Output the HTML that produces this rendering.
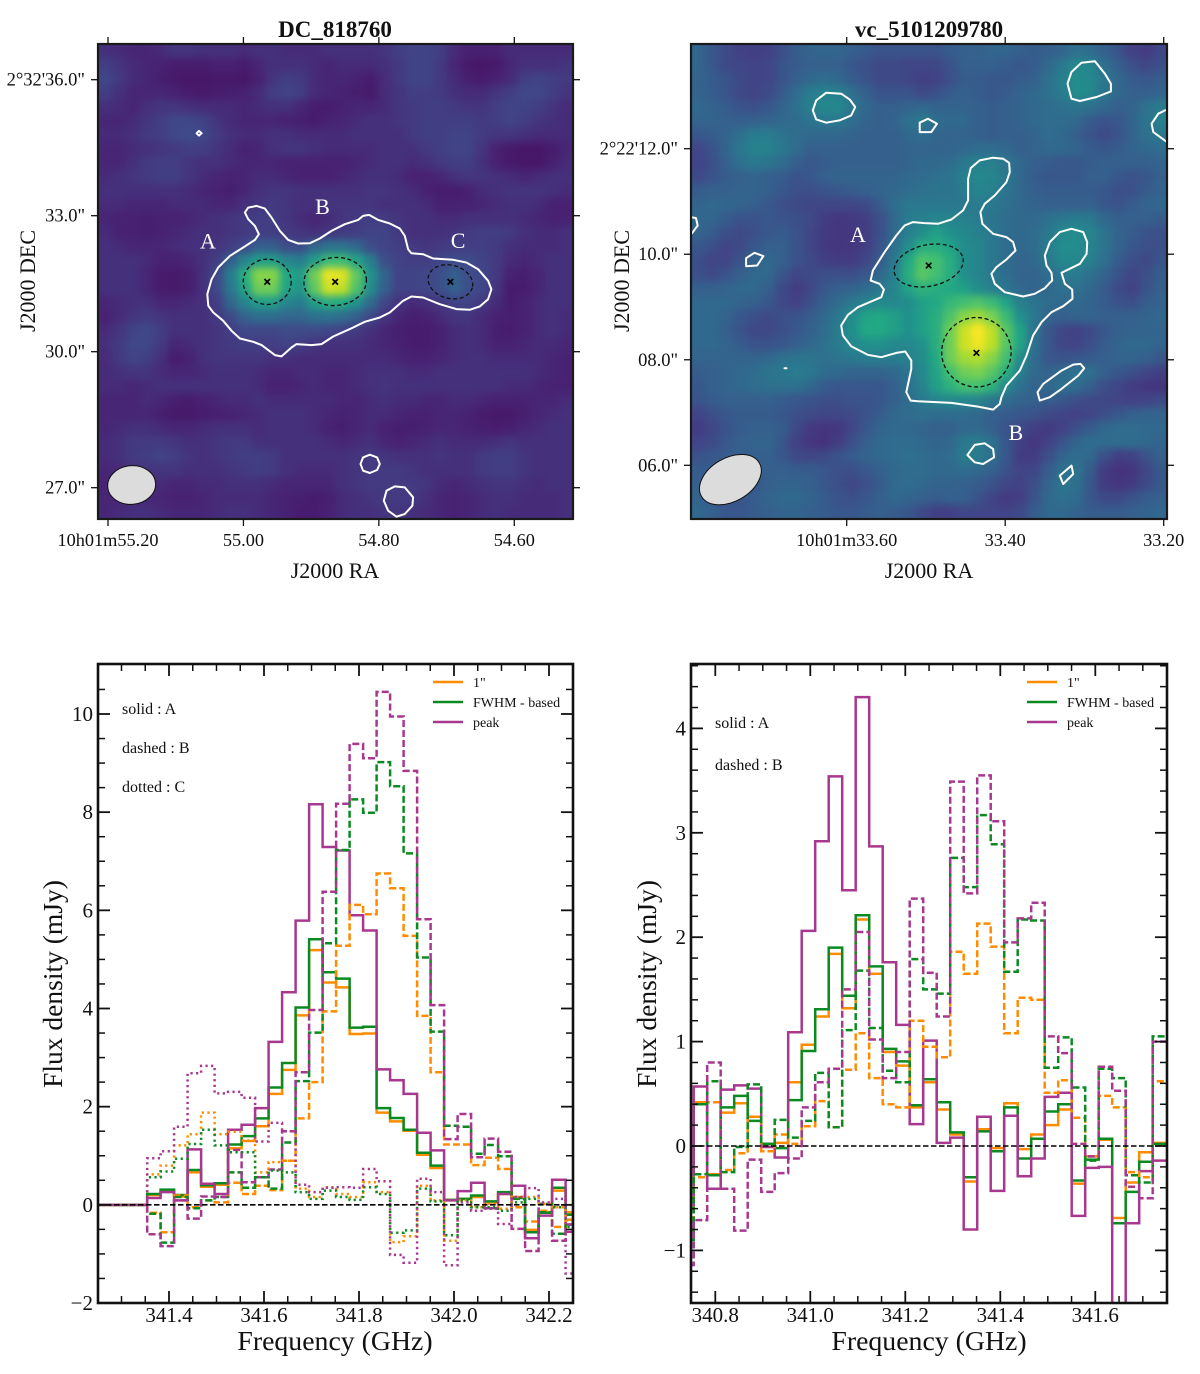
<!DOCTYPE html>
<html lang="en">
<head>
<meta charset="utf-8">
<title>DC_818760 and vc_5101209780 maps and spectra</title>
<style>
html,body{margin:0;padding:0;background:#fff;}
svg{display:block;font-family:"Liberation Serif",serif;}
text{fill:#111;}
</style>
</head>
<body>
<svg id="fig" xmlns="http://www.w3.org/2000/svg" width="1200" height="1374" viewBox="0 0 1200 1374">
  <defs>
    <filter id="smooth" filterUnits="userSpaceOnUse" x="0" y="0" width="1200" height="600" color-interpolation-filters="sRGB">
      <feGaussianBlur stdDeviation="4"/>
    </filter>
    <clipPath id="clipMapL"><rect x="98" y="44" width="475" height="475"/></clipPath>
    <clipPath id="clipMapR"><rect x="691" y="44" width="476" height="475"/></clipPath>
    <clipPath id="clipSpecL"><rect x="98" y="664" width="475" height="639"/></clipPath>
    <clipPath id="clipSpecR"><rect x="691" y="664" width="476" height="639"/></clipPath>
  </defs>

  <g id="mapL"></g>
  <g id="mapR"></g>
  <g id="specL"></g>
  <g id="specR"></g>

  <text x="335" y="37" text-anchor="middle" font-size="23" font-weight="bold">DC_818760</text>
  <text x="929" y="37" text-anchor="middle" font-size="23" font-weight="bold">vc_5101209780</text>
  <text x="335" y="578" text-anchor="middle" font-size="22">J2000 RA</text>
  <text x="929" y="578" text-anchor="middle" font-size="22">J2000 RA</text>
  <text transform="translate(35,281) rotate(-90)" text-anchor="middle" font-size="22">J2000 DEC</text>
  <text transform="translate(629,281) rotate(-90)" text-anchor="middle" font-size="22">J2000 DEC</text>

  <text x="335" y="1350" text-anchor="middle" font-size="27.8">Frequency (GHz)</text>
  <text x="929" y="1350" text-anchor="middle" font-size="27.8">Frequency (GHz)</text>
  <text transform="translate(62,984) rotate(-90)" text-anchor="middle" font-size="27.5">Flux density (mJy)</text>
  <text transform="translate(656,984) rotate(-90)" text-anchor="middle" font-size="27.5">Flux density (mJy)</text>

  <text x="122" y="714" font-size="16">solid : A</text>
  <text x="122" y="753" font-size="16">dashed : B</text>
  <text x="122" y="792" font-size="16">dotted : C</text>
  <text x="715" y="728" font-size="16">solid : A</text>
  <text x="715" y="770" font-size="16">dashed : B</text>

  <g>
    <line x1="433" x2="463" y1="682" y2="682" stroke="#ff8c00" stroke-width="2.4"/>
    <text x="473" y="687" font-size="14">1"</text>
    <line x1="433" x2="463" y1="702" y2="702" stroke="#0b8a22" stroke-width="2.4"/>
    <text x="473" y="707" font-size="14">FWHM - based</text>
    <line x1="433" x2="463" y1="722" y2="722" stroke="#a8388f" stroke-width="2.4"/>
    <text x="473" y="727" font-size="14">peak</text>
  </g>
  <g>
    <line x1="1027" x2="1057" y1="682" y2="682" stroke="#ff8c00" stroke-width="2.4"/>
    <text x="1067" y="687" font-size="14">1"</text>
    <line x1="1027" x2="1057" y1="702" y2="702" stroke="#0b8a22" stroke-width="2.4"/>
    <text x="1067" y="707" font-size="14">FWHM - based</text>
    <line x1="1027" x2="1057" y1="722" y2="722" stroke="#a8388f" stroke-width="2.4"/>
    <text x="1067" y="727" font-size="14">peak</text>
  </g>
</svg>

<script>
/* ---------- heatmap values (percent of the colour scale) ---------- */
const heatLeft = [
[14,12,10,10,12,16,16,14,14,14,12,14,14,12,12,12,14,14,14,14,16,20,22,22,20,12,8,8,8,12,12,12,12,12],
[20,16,12,10,8,6,6,6,8,8,6,10,14,14,14,12,10,12,12,12,14,18,22,22,18,10,5,4,5,10,14,14,14,16],
[24,18,12,10,7,5,4,4,5,5,4,8,16,20,18,12,10,10,8,6,12,18,22,22,18,12,7,6,8,12,20,22,20,18],
[20,14,10,10,10,8,6,5,6,7,8,12,20,22,20,12,10,8,7,5,12,16,20,20,18,14,12,12,16,20,24,24,20,16],
[14,12,10,14,16,16,14,12,12,12,10,12,14,14,10,6,6,8,10,10,12,16,18,20,20,18,16,16,20,22,22,20,16,12],
[10,10,12,16,20,24,24,22,16,12,10,10,10,8,7,6,8,10,12,14,14,16,18,20,20,20,20,18,20,22,20,16,14,12],
[12,12,14,18,20,24,26,24,18,14,12,12,14,14,12,12,12,12,14,14,14,14,18,20,20,22,22,18,16,16,14,12,12,12],
[10,10,12,14,16,18,20,20,16,12,8,10,14,16,16,14,12,12,12,12,14,14,14,18,20,22,22,16,8,5,4,4,6,10],
[10,10,14,18,20,20,16,14,14,12,10,10,10,8,8,8,8,8,10,12,14,14,12,14,18,20,20,14,8,5,4,4,7,12],
[12,14,16,18,20,20,16,12,10,8,10,12,12,10,8,8,8,10,12,14,14,12,8,8,10,14,16,16,14,12,10,12,14,14],
[14,14,14,14,14,14,12,10,8,7,10,14,16,16,14,14,14,14,14,16,16,14,12,8,6,6,8,12,14,16,16,16,14,12],
[12,12,10,10,10,12,12,12,10,10,14,16,18,16,14,14,16,16,16,16,14,14,14,12,8,8,8,10,12,14,14,12,8,8],
[10,8,8,7,8,8,10,12,14,16,18,20,20,16,12,10,12,16,18,20,18,16,14,14,12,12,14,14,14,14,12,10,8,8],
[12,8,8,7,8,10,12,14,14,16,18,20,20,18,16,14,16,18,20,22,22,18,14,14,14,16,18,20,20,18,14,12,12,14],
[14,12,10,10,10,12,14,14,16,20,26,30,30,27,27,33,38,38,33,27,22,20,18,16,18,20,20,20,18,14,12,12,12,14],
[14,14,14,12,8,8,10,14,20,30,45,55,55,45,42,55,68,68,58,42,28,22,20,20,24,26,26,22,18,12,10,12,14,14],
[14,14,14,10,6,5,7,14,25,42,62,82,82,60,55,78,97,95,75,50,32,22,22,24,28,30,27,24,18,8,7,10,14,14],
[14,14,14,10,6,5,7,14,25,40,58,78,78,58,52,75,93,90,72,48,30,22,22,24,28,31,28,24,16,6,6,10,14,14],
[10,12,14,14,10,10,12,14,20,33,45,55,55,45,42,55,62,60,50,35,24,16,12,14,18,22,22,18,12,6,8,12,14,14],
[8,12,16,18,16,14,14,14,18,25,32,36,36,33,33,37,38,35,30,25,16,10,7,8,12,16,16,12,8,7,8,12,14,12],
[12,16,22,24,20,14,14,14,16,20,24,24,24,26,26,26,24,22,18,14,10,7,6,6,8,12,14,12,7,6,8,12,14,12],
[14,18,24,24,18,10,12,14,16,18,20,20,20,22,20,16,14,14,14,12,10,8,6,6,8,12,14,12,8,8,10,12,12,10],
[12,18,22,20,14,6,8,14,16,16,16,16,14,14,12,12,12,12,12,12,12,10,8,8,10,12,14,14,12,12,12,12,10,8],
[12,14,16,16,12,10,10,12,14,14,14,12,10,10,12,12,10,10,12,14,14,14,12,12,14,14,14,14,14,14,14,12,10,8],
[12,12,10,12,14,14,14,14,14,14,14,12,8,8,10,12,10,10,12,14,16,14,14,14,14,14,14,14,14,12,12,10,8,8],
[10,10,10,12,10,7,6,8,10,12,12,14,12,12,12,12,12,10,10,12,14,12,12,10,10,12,12,10,8,8,8,10,10,12],
[10,10,10,10,7,5,5,6,7,8,10,12,14,14,14,12,10,8,10,12,12,10,8,8,10,10,8,6,5,5,7,10,12,14],
[10,12,14,14,12,10,10,12,14,14,14,12,14,14,14,12,8,7,10,12,8,7,7,8,10,10,8,7,6,7,10,12,14,14],
[12,14,18,18,18,16,14,14,16,18,18,14,14,14,14,14,12,10,12,14,10,8,10,12,14,12,12,12,14,16,14,14,14,14],
[12,14,18,20,22,20,16,14,16,18,20,20,18,14,14,14,14,14,16,18,16,14,14,14,16,14,14,18,20,20,16,14,14,14],
[10,12,14,16,16,16,14,14,14,16,18,20,18,14,12,12,12,14,16,18,18,18,16,14,14,14,14,18,20,20,16,14,14,14],
[8,10,12,12,12,10,10,12,12,14,14,14,12,10,10,10,10,14,16,18,18,18,18,16,12,10,12,14,16,16,14,12,14,14],
[10,10,10,10,10,8,8,10,12,12,12,12,10,8,7,6,7,12,14,16,18,18,18,14,10,8,10,12,14,14,12,12,12,14],
[10,12,14,14,12,10,10,10,12,14,14,12,10,8,6,6,8,12,14,14,16,16,14,12,10,8,10,12,14,12,12,12,12,14]
];
const heatRight = [
[33,26,20,16,15,16,22,28,32,33,33,30,27,24,24,24,24,24,28,30,31,33,33,30,28,30,32,38,36,30,24,16,14,18],
[33,26,20,18,17,18,24,28,30,30,30,26,22,20,20,18,18,19,24,30,30,30,28,26,28,34,42,50,48,38,30,22,18,22],
[32,28,24,20,17,18,24,30,34,36,34,28,24,20,20,18,15,16,22,28,28,26,26,28,30,38,46,52,50,42,34,28,26,28],
[32,28,25,19,17,20,27,36,44,48,46,38,30,24,24,24,20,22,28,30,28,26,28,32,34,38,44,52,50,40,34,30,30,32],
[34,32,28,24,22,26,32,38,46,50,50,42,34,30,30,32,34,32,32,32,30,28,30,32,34,36,38,40,38,34,30,32,38,44],
[32,32,30,30,30,32,34,36,40,42,42,36,32,30,32,38,42,36,34,34,30,28,30,32,34,36,36,34,28,24,26,32,40,46],
[26,28,32,38,44,44,40,36,34,34,34,32,30,30,30,34,36,33,32,32,30,28,30,30,32,36,34,30,24,20,24,32,38,42],
[18,24,32,42,47,47,42,36,30,30,30,30,30,30,30,32,32,32,32,34,36,36,34,30,32,34,34,32,28,26,28,32,34,36],
[17,22,30,38,42,40,36,30,26,28,30,30,30,30,30,32,34,34,36,42,46,46,40,34,30,28,26,26,28,30,30,30,30,32],
[20,24,28,30,32,30,28,24,26,30,32,32,32,32,32,34,36,38,40,46,50,48,42,34,28,26,26,26,30,30,26,24,26,30],
[28,30,30,32,32,30,26,22,22,24,26,28,30,32,34,36,38,40,40,44,48,46,40,34,30,28,28,28,28,26,22,22,28,32],
[32,34,33,32,30,26,22,20,18,18,18,18,20,28,36,42,42,42,42,42,44,42,38,34,32,30,30,30,30,26,24,28,32,34],
[34,33,28,24,24,26,24,22,20,14,12,13,15,22,34,44,46,48,48,46,44,40,36,34,34,38,42,44,42,34,30,30,30,28],
[32,28,22,20,22,26,28,24,18,13,12,12,14,22,34,46,52,56,54,50,46,42,36,34,36,42,50,52,48,40,32,28,24,22],
[26,22,17,20,26,30,30,24,18,13,11,12,15,24,38,52,62,62,58,52,48,42,36,34,36,44,52,52,48,40,32,26,22,22],
[22,17,18,24,32,34,30,24,20,15,14,14,18,28,42,60,72,70,62,54,48,42,36,32,34,42,50,50,46,38,28,22,20,24],
[22,20,24,30,34,34,26,18,20,22,22,22,26,34,46,62,74,70,62,54,48,42,36,32,32,36,42,44,38,32,24,18,22,28],
[30,30,32,34,34,30,20,14,18,26,30,32,36,42,48,58,64,62,60,56,52,46,40,34,32,34,38,38,34,28,20,16,24,30],
[34,34,34,32,30,26,20,16,22,30,36,42,48,50,50,52,56,60,66,70,72,68,58,46,40,36,34,34,32,28,24,22,28,32],
[34,34,32,26,22,20,22,24,28,34,42,52,58,60,56,54,56,62,72,82,86,80,68,54,42,32,30,32,32,30,30,30,32,34],
[34,34,30,24,19,19,22,26,30,36,44,54,60,60,56,54,56,62,78,92,100,90,74,58,40,26,18,16,20,26,30,32,32,32],
[34,34,32,28,24,24,26,30,34,38,44,50,54,54,50,50,54,62,78,92,98,90,74,58,38,26,18,17,22,28,32,34,34,32],
[32,32,32,32,32,34,38,40,40,38,40,42,44,44,44,46,52,60,78,86,88,82,70,52,36,26,24,26,28,30,32,32,30,26],
[28,30,32,34,36,40,42,44,42,36,34,32,32,32,34,40,50,58,70,78,80,74,62,46,34,32,36,40,38,30,26,22,18,15],
[26,30,32,34,36,38,38,38,34,28,26,26,26,26,30,38,48,56,64,70,70,64,50,38,32,34,38,36,30,22,18,14,12,11],
[24,28,30,30,30,30,28,26,24,22,22,24,24,26,30,36,42,48,50,50,48,42,36,32,30,28,26,22,20,18,17,16,17,20],
[17,22,26,28,28,28,26,22,20,18,18,20,24,28,34,36,38,36,36,36,34,30,28,26,24,20,17,16,18,22,26,30,32,32],
[14,18,24,28,30,30,28,20,13,11,12,18,26,32,34,34,32,30,30,34,34,30,24,20,15,13,16,22,28,34,36,36,34,34],
[17,20,26,30,32,32,26,16,11,10,14,22,30,34,36,36,34,32,34,42,44,38,26,15,12,16,24,32,36,36,36,36,34,32],
[24,26,28,30,30,30,26,20,18,20,24,28,32,34,36,38,36,34,36,44,44,38,26,14,14,22,32,36,34,22,15,16,24,30],
[28,28,26,26,28,30,30,28,28,26,22,22,26,30,34,36,36,34,34,36,34,30,24,17,18,28,38,40,28,14,10,11,18,26],
[30,28,24,24,26,30,32,32,30,26,22,19,22,28,34,36,34,32,32,30,28,24,18,16,22,32,40,38,26,14,11,13,20,26],
[32,28,24,24,28,32,34,34,32,28,24,22,26,30,34,32,30,28,30,30,24,17,13,15,24,34,38,36,26,20,20,24,28,30],
[34,30,26,26,28,30,32,32,30,28,26,26,28,30,28,26,20,15,15,18,18,17,17,20,28,34,34,32,28,28,28,30,32,34]
];

/* ---------- contour levels, in map-frame units (x,y pairs) ---------- */
const contoursLeft = [
[465,530,475,515,500,510,525,518,545,545,570,585,595,612,625,623,660,622,690,608,725,585,765,565,805,552,820,540,838,537,865,552,900,563,930,578,945,600,955,640,965,652,1000,655,1030,668,1090,672,1130,680,1165,700,1195,735,1205,760,1195,790,1170,812,1140,822,1100,820,1050,805,1000,785,965,782,940,795,900,830,870,845,825,858,780,880,730,902,695,925,665,928,620,925,605,935,575,962,555,958,515,928,490,918,450,908,425,885,400,855,370,830,355,810,352,775,365,730,385,695,420,660,460,635,495,612,507,595,495,570,475,550,465,530],
[812,1285,820,1265,840,1257,862,1265,870,1285,862,1303,840,1312,820,1305,812,1285],
[882,1395,890,1365,915,1352,945,1355,970,1385,968,1410,945,1435,920,1443,895,1425,882,1395],
[320,292,327,285,335,292,327,299,320,292]
];
const contoursRight = [
[660,570,685,560,720,563,760,565,800,552,835,525,850,495,850,430,858,398,885,375,925,367,955,370,973,382,975,410,965,440,930,480,900,505,887,530,893,565,925,595,965,605,985,620,992,645,965,672,935,695,920,715,930,745,960,770,1015,783,1050,775,1080,758,1095,742,1102,735,1100,712,1085,690,1080,660,1095,620,1125,590,1160,580,1195,590,1207,620,1205,655,1185,685,1130,712,1140,745,1162,762,1163,790,1135,812,1100,830,1070,860,1045,900,1025,960,1005,1005,965,1050,950,1085,945,1105,925,1122,880,1113,800,1102,700,1097,678,1095,665,1070,680,1000,680,975,662,948,635,952,590,965,550,958,500,932,475,900,470,870,490,838,520,815,590,785,598,762,585,745,558,735,565,705,600,650,635,600,660,570],
[385,225,395,195,425,172,470,175,495,192,512,215,500,240,465,255,425,262,395,252,385,225],
[705,262,730,250,757,265,740,290,705,290,705,262],
[1148,145,1160,110,1190,82,1230,78,1260,115,1278,145,1278,168,1235,185,1185,197,1160,190,1148,145],
[1446,222,1420,235,1400,265,1405,290,1446,320],
[20,545,35,548,40,570,20,597],
[185,668,210,652,237,662,218,690,185,692,185,668],
[1058,1070,1075,1045,1130,1005,1165,987,1187,985,1198,998,1180,1020,1130,1060,1095,1085,1065,1095,1058,1070],
[848,1258,870,1228,900,1223,925,1240,928,1265,895,1285,870,1280,848,1258],
[1125,1320,1160,1290,1165,1315,1135,1345,1125,1320],
[300,998,306,998]
];
/* apertures and sources: cx, cy, rx, ry, rotation */
const aperturesLeft = [[532,738,72,68,0],[736,737,94,72,-5],[1082,738,68,50,15]];
const aperturesRight = [[732,690,105,62,-12],[875,950,104,104,0]];
const sourcesLeft = [[532,738],[736,738],[1082,738]];
const sourcesRight = [[732,690],[875,952]];
const beamLeft = [125,1348,72,58,-5];
const beamRight = [138,1332,100,65,-30];
const lettersLeft = [["A",354,638],["B",698,535],["C",1105,636]];
const lettersRight = [["A",520,620],["B",993,1213]];

/* ---------- map axis ticks ---------- */
const raTicksLeft = [55.2,55.0,54.8,54.6];
const raLabelsLeft = ["10h01m55.20","55.00","54.80","54.60"];
const decTicksLeft = [36,33,30,27];
const decLabelsLeft = ["2°32'36.0\"","33.0\"","30.0\"","27.0\""];
const raTicksRight = [33.6,33.4,33.2];
const raLabelsRight = ["10h01m33.60","33.40","33.20"];
const decTicksRight = [12,10,8,6];
const decLabelsRight = ["2°22'12.0\"","10.0\"","08.0\"","06.0\""];

/* ---------- spectra, left source (mJy per channel) ---------- */
const leftA1 = [0.2,0.28,0.17,0.66,0.37,0.41,1.15,1.3,1.6,2.26,2.75,3.86,5.19,4.53,4.43,3.48,3.49,1.88,1.7,1.51,1.02,0.75,0.1,0.12,0.16,0.05,0.22,0.16,-0.51,-0.15,0.29,-0.15];
const leftAF = [0.22,0.31,0.2,0.71,0.4,0.44,1.23,1.4,1.76,2.39,2.89,4.02,5.41,4.74,4.61,3.61,3.63,1.97,1.77,1.53,1.06,0.8,0.1,0.12,0.19,0.07,0.26,0.14,-0.56,-0.16,0.35,-0.2];
const leftAP = [0.14,0.26,0.09,1.13,0.43,0.22,1.53,1.63,1.97,3.32,4.33,5.79,8.16,7.29,7.22,5.9,5.59,2.76,2.54,2.26,1.47,1.11,0.09,0.28,0.45,-0.07,0.22,0.39,-0.68,-0.22,0.51,-0.55];
const leftB1 = [-0.16,-0.56,0.19,-0.05,0.09,0.05,0.45,0.22,0.39,0.3,0.9,1.76,2.5,3.94,5.28,6.11,5.92,6.75,6.45,5.48,3.85,2.7,1.23,1.23,0.81,0.96,0.73,-0.05,-0.34,-0.12,-0.45,-0.3];
const leftBF = [-0.18,-0.77,0.16,-0.07,0.09,0.16,0.66,0.35,0.56,0.33,1.27,2.52,3.51,5.33,7.23,8.26,7.99,9.02,8.53,7.16,5.04,3.53,1.61,1.59,1.04,1.22,0.99,0.12,-0.56,-0.15,-0.59,-0.4];
const leftBP = [-0.6,-0.84,0.09,-0.28,0.17,0.16,1.12,0.46,0.56,0.72,1.5,2.7,3.97,6.38,8.17,9.39,9.1,10.45,9.95,8.84,5.82,4.07,1.34,1.85,0.97,1.35,1.08,-0.49,-0.94,0.02,-0.73,-0.4];
const leftC1 = [0.62,0.8,1.21,1.44,1.88,1.44,1.49,1.31,0.66,0.87,0.9,0.33,0.16,0.36,0.22,0.16,0.46,0.26,-0.76,-0.64,0.39,0.09,-0.73,0.09,-0.05,0.02,-0.08,0.16,0.16,0.02,-0.05,-0.32];
const leftCF = [0.56,0.68,0.94,1.24,1.53,1.21,1.07,1.07,0.56,0.7,0.66,0.26,0.12,0.29,0.16,0.1,0.36,0.22,-0.57,-0.52,0.33,0.07,-0.62,0.09,-0.05,-0.05,-0.12,0.05,0.12,0.02,-0.05,-0.45];
const leftCP = [0.95,1.09,1.59,2.68,2.83,2.27,2.3,2.18,1.29,1.67,1.5,0.41,0.26,0.35,0.36,0.35,0.73,0.48,-1.02,-1.18,0.53,0.26,-1.23,0.05,-0.12,-0.08,-0.39,0.16,0.34,0.05,0.12,-1.4];

/* ---------- spectra, right source (mJy per channel) ---------- */
const rightA1 = [-0.5,0.42,-0.27,0.32,0.41,0.28,0.02,0.03,0.61,0.97,1.24,1.84,1.32,2.17,1.65,0.9,0.77,0.37,0.61,0.35,0.11,-0.34,0.16,-0.02,0.41,-0.03,0.11,0.2,0.35,-0.36,-0.1,0.06,-0.69,-0.35,-0.06,0.03];
const rightAF = [-0.5,0.4,-0.28,0.37,0.48,0.24,0.02,-0.02,0.44,0.91,1.31,1.9,1.44,2.21,1.72,0.93,0.81,0.39,0.64,0.42,0.13,-0.3,0.14,-0.05,0.37,-0.12,0.07,0.33,0.4,-0.33,-0.13,0.07,-0.74,-0.44,-0.15,0.02];
const rightAP = [-0.6,0.57,-0.41,0.54,0.58,0.55,-0.01,-0.11,1.09,2.06,2.92,3.54,2.45,4.3,2.87,1.76,1.16,0.21,1.01,0.03,0.08,-0.8,0.28,-0.43,0.29,-0.29,-0.12,0.47,0.51,-0.67,-0.21,-0.2,-2.2,-0.74,-0.24,-0.14];
const rightB1 = [-0.8,-0.3,0.42,-0.23,-0.07,0.28,-0.05,0.11,0.02,0.19,0.43,0.18,0.73,1.08,0.65,0.4,0.37,1.2,0.95,0.85,1.86,1.65,2.13,1.91,1.08,1.42,1.4,0.51,0.63,0.27,-0.1,0.48,0.37,-0.25,-0.3,0.62];
const rightBF = [-0.9,-0.27,0.62,-0.25,-0.01,0.59,0.02,0.25,0.08,0.24,0.7,0.18,1.11,1.68,1.13,0.72,0.61,1.79,1.5,1.46,2.76,2.48,3.17,2.89,1.67,2.17,2.16,0.75,1.04,0.56,-0.14,0.74,0.65,-0.28,-0.35,1.05];
const rightBP = [-1.14,-0.71,0.8,-0.41,-0.81,-0.13,-0.44,-0.26,-0.12,0.37,0.61,0.74,1.5,2.05,1.02,0.65,0.9,2.37,1.66,1.24,3.49,2.42,3.55,3.11,1.95,2.18,2.33,1.05,0.89,0.02,-0.1,0.76,0.53,-0.39,-0.5,1.0];

/* ---------- spectrum axis ticks ---------- */
const freqMajorLeft = [341.4,341.6,341.8,342.0,342.2];
const freqLabelsLeft = ["341.4","341.6","341.8","342.0","342.2"];
const fluxMajorLeft = [-2,0,2,4,6,8,10];
const fluxLabelsLeft = ["−2","0","2","4","6","8","10"];
const freqMajorRight = [340.8,341.0,341.2,341.4,341.6];
const freqLabelsRight = ["340.8","341.0","341.2","341.4","341.6"];
const fluxMajorRight = [-1,0,1,2,3,4];
const fluxLabelsRight = ["−1","0","1","2","3","4"];

const NS = "http://www.w3.org/2000/svg";
const viridisStops = ["#440154","#482475","#414487","#355f8d","#2a788e","#21918c","#22a884","#43bf71","#7ad151","#bddf26","#fde725"];

function scale(d0, d1, r0, r1) {
  return function (v) { return r0 + (v - d0) * (r1 - r0) / (d1 - d0); };
}
function make(tag, parent) {
  const e = document.createElementNS(NS, tag);
  parent.appendChild(e);
  return e;
}
function set(e, props) {
  for (const k in props) e.setAttribute(k, props[k]);
}
function colour(pct) {
  const t = Math.max(0, Math.min(100, pct)) / 10;
  const i = Math.min(9, Math.floor(t));
  const f = t - i;
  const a = viridisStops[i], b = viridisStops[i + 1];
  const out = [1, 3, 5].map(function (p) {
    const c0 = parseInt(a.substr(p, 2), 16), c1 = parseInt(b.substr(p, 2), 16);
    return Math.round(c0 + (c1 - c0) * f);
  });
  return "rgb(" + out.join(",") + ")";
}

function drawMap(cfg) {
  const root = document.getElementById(cfg.id);
  const L = cfg.left, T = 44, W = cfg.width, H = 475;
  const X = scale(cfg.frameX[0], cfg.frameX[1], L, L + W);
  const Y = scale(cfg.frameY[0], cfg.frameY[1], T, T + H);
  const sx = W / (cfg.frameX[1] - cfg.frameX[0]);
  /* faint-emission colour norm: compresses the noise floor around its mean */
  function norm(v) {
    return v < cfg.normTop ? cfg.normMid + (v - cfg.normMid) * cfg.normGain : v;
  }

  const clip = make("g", root);
  clip.setAttribute("clip-path", "url(#" + cfg.clip + ")");
  
  
  const blur = make("g", clip);
  blur.setAttribute("filter", "url(#smooth)");
  const rows = cfg.heat.length, cols = cfg.heat[0].length;
  const cw = W / cols, ch = H / rows;
  cfg.heat.forEach(function (row, r) {
    row.forEach(function (val, c) {
      const cell = make("rect", blur);
      const padL = c === 0 ? 24 : 0, padR = c === cols - 1 ? 24 : 0;
      const padT = r === 0 ? 24 : 0, padB = r === rows - 1 ? 24 : 0;
      set(cell, { x: L + c * cw - padL, y: T + r * ch - padT, width: cw + 0.6 + padL + padR, height: ch + 0.6 + padT + padB, fill: colour(norm(val)) });
      
      
    });
  });

  cfg.contours.forEach(function (pts) {
    const line = make("polyline", clip);
    const out = [];
    for (let i = 0; i < pts.length; i += 2) out.push(X(pts[i]).toFixed(1) + "," + Y(pts[i + 1]).toFixed(1));
    set(line, { points: out.join(" "), fill: "none", stroke: "#fff", "stroke-width": 2, "stroke-linejoin": "round", "stroke-linecap": "round" });
    
    
  });

  cfg.apertures.forEach(function (a) {
    const ap = make("ellipse", clip);
    set(ap, { cx: X(a[0]), cy: Y(a[1]), rx: a[2] * sx, ry: a[3] * sx, fill: "none", stroke: "#111", "stroke-width": 1.3, "stroke-dasharray": "4 2.6",
      transform: "rotate(" + a[4] + " " + X(a[0]) + " " + Y(a[1]) + ")" });
    
    
  });

  cfg.sources.forEach(function (s) {
    const cross = make("path", clip);
    const x = X(s[0]), y = Y(s[1]), d = 2.8;
    set(cross, { d: "M" + (x - d) + " " + (y - d) + "L" + (x + d) + " " + (y + d) + "M" + (x - d) + " " + (y + d) + "L" + (x + d) + " " + (y - d), stroke: "#000", "stroke-width": 1.7, fill: "none" });
    
    
  });

  const b = cfg.beam;
  const beam = make("ellipse", clip);
  set(beam, { cx: X(b[0]), cy: Y(b[1]), rx: b[2] * sx, ry: b[3] * sx, fill: "#dcdcdc", stroke: "#111", "stroke-width": 1,
    transform: "rotate(" + b[4] + " " + X(b[0]) + " " + Y(b[1]) + ")" });
  
  

  cfg.letters.forEach(function (l) {
    const t = make("text", root);
    set(t, { x: X(l[1]), y: Y(l[2]), "text-anchor": "middle", "font-size": 22 });
    t.style.fill = "#fff";
    t.textContent = l[0];
    
    
  });

  const frame = make("rect", root);
  set(frame, { x: L, y: T, width: W, height: H, fill: "none", stroke: "#1a1a1a", "stroke-width": 2.2 });
  
  

  const raX = scale(cfg.raRef[0], cfg.raRef[1], cfg.raPx[0], cfg.raPx[1]);
  const decY = scale(cfg.decRef[0], cfg.decRef[1], cfg.decPx[0], cfg.decPx[1]);
  cfg.raTicks.forEach(function (v, i) {
    const x = raX(v);
    [[T, T - 7], [T + H, T + H + 7]].forEach(function (p) {
      const tk = make("line", root);
      set(tk, { x1: x, x2: x, y1: p[0], y2: p[1], stroke: "#111", "stroke-width": 1.3 });
      
      
    });
    const lab = make("text", root);
    set(lab, { x: x, y: 546, "text-anchor": "middle", "font-size": 18.3 });
    lab.textContent = cfg.raLabels[i];
    
    
  });
  cfg.decTicks.forEach(function (v, i) {
    const y = decY(v);
    [[L, L - 7], [L + W, L + W + 7]].forEach(function (p) {
      const tk = make("line", root);
      set(tk, { x1: p[0], x2: p[1], y1: y, y2: y, stroke: "#111", "stroke-width": 1.3 });
      
      
    });
    const lab = make("text", root);
    set(lab, { x: L - 13, y: y + 6, "text-anchor": "end", "font-size": 18.5 });
    lab.textContent = cfg.decLabels[i];
    
    
  });
}

function drawSpectrum(cfg) {
  const root = document.getElementById(cfg.id);
  const L = cfg.left, R = cfg.right, T = 664, B = 1303;
  const X = scale(cfg.xRef[0], cfg.xRef[1], cfg.xPx[0], cfg.xPx[1]);
  const Y = scale(cfg.yRef[0], cfg.yRef[1], cfg.yPx[0], cfg.yPx[1]);

  const plot = make("g", root);
  plot.setAttribute("clip-path", "url(#" + cfg.clip + ")");
  
  

  cfg.series.forEach(function (s) {
    let d = "";
    if (cfg.leadIn) d = "M" + L + " " + Y(0) + "L" + X(cfg.start).toFixed(1) + " " + Y(0);
    else d = "M" + X(cfg.start).toFixed(1) + " " + Y(s.values[0]).toFixed(1);
    s.values.forEach(function (v, i) {
      const x0 = X(cfg.start + i * cfg.step), x1 = X(cfg.start + (i + 1) * cfg.step), y = Y(v);
      d += "L" + x0.toFixed(1) + " " + y.toFixed(1) + "L" + x1.toFixed(1) + " " + y.toFixed(1);
    });
    const p = make("path", plot);
    set(p, { d: d, fill: "none", stroke: s.colour, "stroke-width": 2.5, "stroke-linejoin": "miter" });
    if (s.dash) p.setAttribute("stroke-dasharray", s.dash);
    
    
  });

  const zero = make("line", plot);
  set(zero, { x1: L, x2: R, y1: Y(0), y2: Y(0), stroke: "#000", "stroke-width": 1.6, "stroke-dasharray": "5.5 2.5" });
  
  

  const frame = make("rect", root);
  set(frame, { x: L, y: T, width: R - L, height: B - T, fill: "none", stroke: "#111", "stroke-width": 2.6 });
  
  

  function xTick(v, len, w) {
    const x = X(v);
    [[T, T + len], [B, B - len]].forEach(function (p) {
      const tk = make("line", root);
      set(tk, { x1: x, x2: x, y1: p[0], y2: p[1], stroke: "#111", "stroke-width": w });
      
      
    });
  }
  function yTick(v, len, w) {
    const y = Y(v);
    [[L, L + len], [R, R - len]].forEach(function (p) {
      const tk = make("line", root);
      set(tk, { x1: p[0], x2: p[1], y1: y, y2: y, stroke: "#111", "stroke-width": w });
      
      
    });
  }
  const base = cfg.freqMajor[0];
  for (let k = -4; k < 40; k++) {
    const v = base + k * 0.05;
    if (X(v) <= L + 1 || X(v) >= R - 1) continue;
    if (k % 4 === 0) xTick(v, 12, 1.8); else xTick(v, 7, 1.5);
  }
  for (let k = 0; k < 100; k++) {
    const v = cfg.fluxMajor[0] + k * cfg.yMinor - 2 * cfg.yMajor;
    const y = Y(v);
    if (y <= T + 1 || y >= B - 1) continue;
    const isMajor = Math.abs(v / cfg.yMajor - Math.round(v / cfg.yMajor)) < 1e-6;
    if (isMajor) yTick(v, 12, 1.8); else yTick(v, 7, 1.5);
  }
  cfg.freqMajor.forEach(function (v, i) {
    const lab = make("text", root);
    set(lab, { x: X(v), y: 1322, "text-anchor": "middle", "font-size": 21 });
    lab.textContent = cfg.freqLabels[i];
    
    
  });
  cfg.fluxMajor.forEach(function (v, i) {
    const lab = make("text", root);
    set(lab, { x: L - 5, y: Y(v) + 7, "text-anchor": "end", "font-size": 21 });
    lab.textContent = cfg.fluxLabels[i];
    
    
  });
}

const ORANGE = "#ff8c00", GREEN = "#0b8a22", MAGENTA = "#a8388f";
const DASH = "7 3", DOT = "2.2 3.4";

drawMap({
  id: "mapL", clip: "clipMapL", left: 98, width: 475, frameX: [24, 1450], frameY: [24, 1450],
  normMid: 13, normGain: 0.75, normTop: 30,
  heat: heatLeft, contours: contoursLeft, apertures: aperturesLeft, sources: sourcesLeft, beam: beamLeft, letters: lettersLeft,
  raRef: [55.2, 54.6], raPx: [108, 514.3], decRef: [36, 27], decPx: [79.7, 487.7],
  raTicks: raTicksLeft, raLabels: raLabelsLeft, decTicks: decTicksLeft, decLabels: decLabelsLeft
});
drawMap({
  id: "mapR", clip: "clipMapR", left: 691, width: 476, frameX: [20, 1446], frameY: [26, 1450],
  normMid: 32, normGain: 0.8, normTop: 55,
  heat: heatRight, contours: contoursRight, apertures: aperturesRight, sources: sourcesRight, beam: beamRight, letters: lettersRight,
  raRef: [33.6, 33.2], raPx: [846.7, 1163.7], decRef: [12, 6], decPx: [148.7, 465.3],
  raTicks: raTicksRight, raLabels: raLabelsRight, decTicks: decTicksRight, decLabels: decLabelsRight
});
drawSpectrum({
  id: "specL", clip: "clipSpecL", left: 98, right: 573, leadIn: true,
  xRef: [341.4, 342.2], xPx: [169, 549], yRef: [-2, 10], yPx: [1303, 714],
  start: 341.354, step: 0.02842, yMajor: 2, yMinor: 0.5,
  freqMajor: freqMajorLeft, freqLabels: freqLabelsLeft, fluxMajor: fluxMajorLeft, fluxLabels: fluxLabelsLeft,
  series: [
    { values: leftA1, colour: ORANGE, name: "series-a-1-arcsec" },
    { values: leftAF, colour: GREEN, name: "series-a-fwhm" },
    { values: leftAP, colour: MAGENTA, name: "series-a-peak" },
    { values: leftB1, colour: ORANGE, dash: DASH, name: "series-b-1-arcsec" },
    { values: leftBF, colour: GREEN, dash: DASH, name: "series-b-fwhm" },
    { values: leftBP, colour: MAGENTA, dash: DASH, name: "series-b-peak" },
    { values: leftC1, colour: ORANGE, dash: DOT, name: "series-c-1-arcsec" },
    { values: leftCF, colour: GREEN, dash: DOT, name: "series-c-fwhm" },
    { values: leftCP, colour: MAGENTA, dash: DOT, name: "series-c-peak" }
  ]
});
drawSpectrum({
  id: "specR", clip: "clipSpecR", left: 691, right: 1167, leadIn: false,
  xRef: [340.8, 341.6], xPx: [715.3, 1095.3], yRef: [-1, 4], yPx: [1250.4, 728.4],
  start: 340.7261, step: 0.02842, yMajor: 1, yMinor: 0.2,
  freqMajor: freqMajorRight, freqLabels: freqLabelsRight, fluxMajor: fluxMajorRight, fluxLabels: fluxLabelsRight,
  series: [
    { values: rightA1, colour: ORANGE, name: "series-a-1-arcsec" },
    { values: rightAF, colour: GREEN, name: "series-a-fwhm" },
    { values: rightAP, colour: MAGENTA, name: "series-a-peak" },
    { values: rightB1, colour: ORANGE, dash: DASH, name: "series-b-1-arcsec" },
    { values: rightBF, colour: GREEN, dash: DASH, name: "series-b-fwhm" },
    { values: rightBP, colour: MAGENTA, dash: DASH, name: "series-b-peak" }
  ]
});
</script>
</body>
</html>
